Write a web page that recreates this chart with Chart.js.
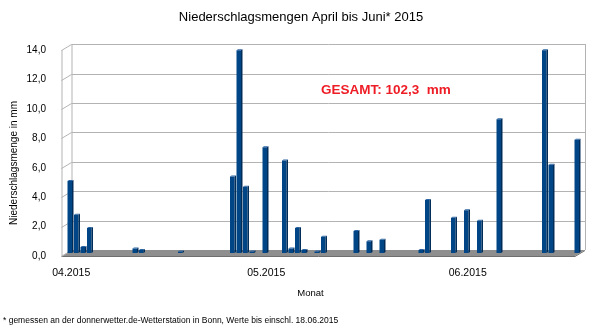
<!DOCTYPE html>
<html>
<head>
<meta charset="utf-8">
<script src="https://cdn.jsdelivr.net/npm/chart.js@4.4.1/dist/chart.umd.min.js"></script>
<style>
  html, body { margin:0; padding:0; background:#fff; }
  #chart { display:block; }
</style>
</head>
<body>
<canvas id="chart" width="600" height="331"></canvas>
<script>
// Tage 01.04. bis 18.06.2015
const tage = [
  '01.04.2015','02.04.2015','03.04.2015','04.04.2015','05.04.2015','06.04.2015','07.04.2015','08.04.2015','09.04.2015','10.04.2015',
  '11.04.2015','12.04.2015','13.04.2015','14.04.2015','15.04.2015','16.04.2015','17.04.2015','18.04.2015','19.04.2015','20.04.2015',
  '21.04.2015','22.04.2015','23.04.2015','24.04.2015','25.04.2015','26.04.2015','27.04.2015','28.04.2015','29.04.2015','30.04.2015',
  '01.05.2015','02.05.2015','03.05.2015','04.05.2015','05.05.2015','06.05.2015','07.05.2015','08.05.2015','09.05.2015','10.05.2015',
  '11.05.2015','12.05.2015','13.05.2015','14.05.2015','15.05.2015','16.05.2015','17.05.2015','18.05.2015','19.05.2015','20.05.2015',
  '21.05.2015','22.05.2015','23.05.2015','24.05.2015','25.05.2015','26.05.2015','27.05.2015','28.05.2015','29.05.2015','30.05.2015',
  '31.05.2015','01.06.2015','02.06.2015','03.06.2015','04.06.2015','05.06.2015','06.06.2015','07.06.2015','08.06.2015','09.06.2015',
  '10.06.2015','11.06.2015','12.06.2015','13.06.2015','14.06.2015','15.06.2015','16.06.2015','17.06.2015','18.06.2015'
];
// Niederschlag in mm pro Tag
const niederschlag = [
  4.9, 2.6, 0.4, 1.7, 0, 0, 0, 0, 0, 0,
  0.3, 0.2, 0, 0, 0, 0, 0, 0.1, 0, 0,
  0, 0, 0, 0, 0, 5.2, 13.8, 4.5, 0.1, 0,
  7.2, 0, 0, 6.3, 0.3, 1.7, 0.2, 0, 0.1, 1.1,
  0, 0, 0, 0, 1.5, 0, 0.8, 0, 0.9, 0,
  0, 0, 0, 0, 0.2, 3.6, 0, 0, 0, 2.4,
  0, 2.9, 0, 2.2, 0, 0, 9.1, 0, 0, 0,
  0, 0, 0, 13.8, 6.0, 0, 0, 0, 7.7
];
const yTicks = [0, 2, 4, 6, 8, 10, 12, 14];

const titel = 'Niederschlagsmengen April bis Juni* 2015';
const yTitel = 'Niederschlagsmenge in mm';
const xTitel = 'Monat';
const gesamt = 'GESAMT: 102,3  mm';
const fussnote = '* gemessen an der donnerwetter.de-Wetterstation in Bonn, Werte bis einschl. 18.06.2015';

const FONT = '"Liberation Sans", Arial, sans-serif';
const D = 5, H = 3; // halbe Tiefe der 3D-Ansicht

const raum = {
  id:'raum',
  beforeDatasetsDraw(chart){
    const {ctx, chartArea:a, scales:{y}} = chart;
    const px = v => Math.round(y.getPixelForValue(v));
    ctx.save();
    // Boden
    ctx.fillStyle = '#8e8e8e';
    ctx.beginPath();
    ctx.moveTo(a.left-D, a.bottom+H); ctx.lineTo(a.right-D, a.bottom+H);
    ctx.lineTo(a.right+D, a.bottom-H); ctx.lineTo(a.left+D, a.bottom-H);
    ctx.closePath(); ctx.fill();
    ctx.strokeStyle = '#6e6e6e'; ctx.lineWidth = 1;
    ctx.beginPath();
    ctx.moveTo(a.left-D, a.bottom+H+0.5); ctx.lineTo(a.right-D, a.bottom+H+0.5); ctx.lineTo(a.right+D, a.bottom-H+0.5);
    ctx.stroke();
    // Wände und Gitter
    ctx.strokeStyle = '#b3b3b3';
    ctx.beginPath();
    yTicks.forEach(v=>{
      const p = px(v);
      if (v > 0){
        ctx.moveTo(a.left+D, p-H+0.5); ctx.lineTo(a.right+D, p-H+0.5);
      }
      ctx.moveTo(a.left-D, p+H+0.5); ctx.lineTo(a.left+D, p-H+0.5);
    });
    ctx.moveTo(a.left-D+0.5, px(14)+H); ctx.lineTo(a.left-D+0.5, px(0)+H);
    ctx.moveTo(a.left+D+0.5, px(14)-H); ctx.lineTo(a.left+D+0.5, px(0)-H);
    ctx.moveTo(a.right+D+0.5, px(14)-H); ctx.lineTo(a.right+D+0.5, px(0)-H);
    ctx.stroke();
    ctx.restore();
  },
  afterDatasetsDraw(chart){
    const {ctx} = chart;
    ctx.save();
    chart.getDatasetMeta(0).data.forEach(bar=>{
      const {x, y, base, width} = bar.getProps(['x','y','base','width'], true);
      if (base - y < 0.5) return;
      const l = x - width/2, r = x + width/2;
      ctx.fillStyle = '#002c57';
      ctx.beginPath();
      ctx.moveTo(r, y); ctx.lineTo(r+1.5, y-1); ctx.lineTo(r+1.5, base-1); ctx.lineTo(r, base);
      ctx.closePath(); ctx.fill();
      ctx.fillStyle = '#2d64a3';
      ctx.beginPath();
      ctx.moveTo(l, y); ctx.lineTo(r, y); ctx.lineTo(r+1.5, y-1); ctx.lineTo(l+1.5, y-1);
      ctx.closePath(); ctx.fill();
    });
    ctx.restore();
  },
  afterDraw(chart){
    const {ctx} = chart;
    ctx.save();
    ctx.fillStyle = '#000';
    ctx.textBaseline = 'middle';
    ctx.textAlign = 'center';
    ctx.font = '13px ' + FONT;
    ctx.fillText(titel, 301, 17);
    ctx.font = '9.5px ' + FONT;
    ctx.fillText(xTitel, 310.5, 293);
    ctx.save();
    ctx.translate(14, 163); ctx.rotate(-Math.PI/2);
    ctx.font = '10px ' + FONT;
    ctx.fillText(yTitel, 0, 0);
    ctx.restore();
    ctx.textAlign = 'left';
    ctx.font = '8.5px ' + FONT;
    ctx.fillText(fussnote, 3, 321);
    ctx.fillStyle = '#ee1c25';
    ctx.font = 'bold 13.5px ' + FONT;
    ctx.fillText(gesamt, 321, 90);
    ctx.restore();
  }
};

new Chart(document.getElementById('chart'), {
  type:'bar',
  data:{
    labels: tage,
    datasets:[{ data: niederschlag, backgroundColor:'#004586', barPercentage:0.69, categoryPercentage:1 }]
  },
  options:{
    responsive:false, animation:false,
    layout:{ padding:{ left:0, right:20, top:47.2, bottom:0 } },
    plugins:{ legend:{display:false}, tooltip:{enabled:false}, title:{display:false} },
    scales:{
      x:{
        grid:{display:false}, border:{display:false},
        ticks:{
          autoSkip:false, maxRotation:0, padding:6, labelOffset:1.5,
          color:'#000', font:{family:FONT, size:10.5},
          callback:(v,i)=> tage[i].startsWith('01.') ? tage[i].slice(3) : ''
        },
        afterFit: s=>{ s.height = 78; }
      },
      y:{
        min:0, max:14,
        grid:{display:false}, border:{display:false},
        ticks:{
          stepSize:2, padding:12.5, labelOffset:3,
          color:'#000', font:{family:FONT, size:10},
          callback:v=> v.toFixed(1).replace('.', ',')
        },
        afterFit: s=>{ s.width = 66.5; }
      }
    }
  },
  plugins:[raum]
});
</script>
</body>
</html>
